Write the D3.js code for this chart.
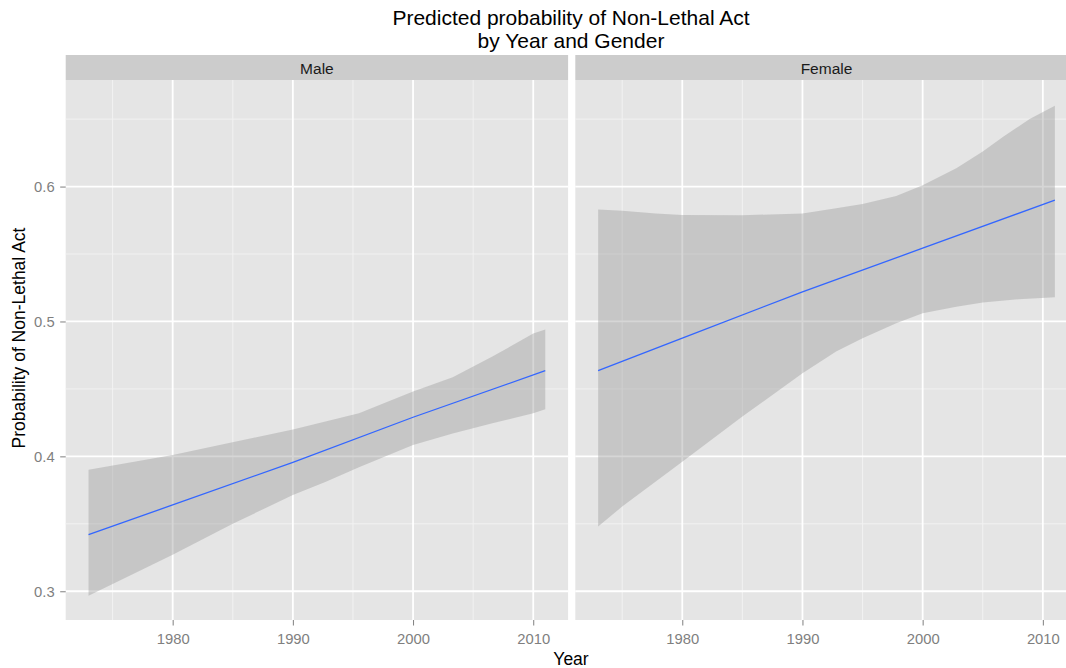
<!DOCTYPE html>
<html><head><meta charset="utf-8">
<script src="https://cdn.jsdelivr.net/npm/d3@7"></script>
<style>body{margin:0;background:#fff;} text{font-family:"Liberation Sans",Arial,sans-serif;}</style>
</head><body><svg id="c" width="1066" height="668"></svg>
<script>
const panels = ["Male", "Female"];
const xTicks = [1980, 1990, 2000, 2010];
const xMinor = [1975, 1985, 1995, 2005];
const yTicks = [0.3, 0.4, 0.5, 0.6];
const yMinor = [0.35, 0.45, 0.55, 0.65];

// Male ribbon and fit
const maleFitYears = [1973, 1980, 1990, 2000, 2011];
const maleFit = [0.342, 0.364, 0.3956, 0.429, 0.4635];
const maleUpperYears = [1973, 1980, 1990, 1995.5, 2000, 2003.3, 2006.6, 2010, 2011];
const maleUpper = [0.390, 0.401, 0.420, 0.432, 0.448, 0.4586, 0.474, 0.491, 0.494];
const maleLowerYears = [1973, 1980, 1985, 1990, 1992.7, 1995.5, 2000, 2003.3, 2006.6, 2010, 2011];
const maleLower = [0.2967, 0.327, 0.350, 0.3714, 0.381, 0.392, 0.4085, 0.417, 0.4245, 0.432, 0.435];

// Female ribbon and fit
const femaleFitYears = [1973, 1980, 1990, 2000, 2011];
const femaleFit = [0.4636, 0.4876, 0.522, 0.5543, 0.590];
const femaleUpperYears = [1973, 1975, 1977.8, 1980, 1985, 1990, 1992.8, 1995, 1997.8, 2000, 2002.8, 2005, 2006.7, 2008.9, 2011];
const femaleUpper = [0.583, 0.582, 0.580, 0.579, 0.5788, 0.580, 0.584, 0.587, 0.593, 0.601, 0.6136, 0.626, 0.637, 0.650, 0.660];
const femaleLowerYears = [1973, 1975, 1980, 1985, 1990, 1992.8, 1995, 1997.8, 2000, 2002.8, 2005, 2008, 2011];
const femaleLower = [0.348, 0.3628, 0.396, 0.4295, 0.4617, 0.4777, 0.4876, 0.4987, 0.5061, 0.511, 0.514, 0.5165, 0.518];

const svg = d3.select("#c");
const panelTop = 80, panelBottom = 620, stripTop = 55;
const panelLefts = [65.7, 575.3];
const panelW = 502.4;
const FONT = '"Liberation Sans",Arial,sans-serif';

const y = d3.scaleLinear().domain([0.2787, 0.679]).range([panelBottom, panelTop]);

const data = {
  Male: {fit: maleFitYears.map((d,i)=>[d, maleFit[i]]),
         up: maleUpperYears.map((d,i)=>[d, maleUpper[i]]),
         lo: maleLowerYears.map((d,i)=>[d, maleLower[i]])},
  Female: {fit: femaleFitYears.map((d,i)=>[d, femaleFit[i]]),
         up: femaleUpperYears.map((d,i)=>[d, femaleUpper[i]]),
         lo: femaleLowerYears.map((d,i)=>[d, femaleLower[i]])}
};

panels.forEach((p, pi) => {
  const x0 = panelLefts[pi];
  const x = d3.scaleLinear().domain([1971.1, 2012.9]).range([x0, x0 + panelW]);
  const g = svg.append("g");
  // strip
  g.append("rect").attr("x", x0).attr("y", stripTop).attr("width", panelW).attr("height", panelTop - stripTop).attr("fill", "#cccccc");
  g.append("text").attr("x", x0 + panelW/2).attr("y", 73.5).attr("text-anchor","middle")
    .attr("font-size", 15.5).attr("fill", "#1a1a1a").text(p);
  // panel
  g.append("rect").attr("x", x0).attr("y", panelTop).attr("width", panelW).attr("height", panelBottom-panelTop).attr("fill", "#e5e5e5");
  xMinor.forEach(v => g.append("line").attr("x1", x(v)).attr("x2", x(v)).attr("y1", panelTop).attr("y2", panelBottom).attr("stroke", "#f2f2f2").attr("stroke-width", 1));
  yMinor.forEach(v => g.append("line").attr("x1", x0).attr("x2", x0+panelW).attr("y1", y(v)).attr("y2", y(v)).attr("stroke", "#f2f2f2").attr("stroke-width", 1));
  xTicks.forEach(v => g.append("line").attr("x1", x(v)).attr("x2", x(v)).attr("y1", panelTop).attr("y2", panelBottom).attr("stroke", "#ffffff").attr("stroke-width", 1.8));
  yTicks.forEach(v => g.append("line").attr("x1", x0).attr("x2", x0+panelW).attr("y1", y(v)).attr("y2", y(v)).attr("stroke", "#ffffff").attr("stroke-width", 1.8));

  const d = data[p];
  const poly = d.up.concat(d.lo.slice().reverse());
  g.append("path").attr("d", d3.line().x(q=>x(q[0])).y(q=>y(q[1]))(poly) + "Z")
    .attr("fill", "#999999").attr("fill-opacity", 0.4);
  g.append("path").attr("d", d3.line().x(q=>x(q[0])).y(q=>y(q[1]))(d.fit))
    .attr("fill", "none").attr("stroke", "#3366FF").attr("stroke-width", 1.3);

  // x axis
  const ax = g.append("g").attr("transform", `translate(0,${panelBottom})`)
    .call(d3.axisBottom(x).tickValues(xTicks).tickFormat(d3.format("d")).tickSize(5.5).tickPadding(7.5));
  ax.select(".domain").remove();
  ax.selectAll("line").attr("stroke", "#7f7f7f");
  ax.selectAll("text").attr("fill", "#7f7f7f").attr("font-size", 14.8).attr("font-family", FONT);

  if (pi === 0) {
    const ay = g.append("g").attr("transform", `translate(${x0},0)`)
      .call(d3.axisLeft(y).tickValues(yTicks).tickFormat(d3.format(".1f")).tickSize(5.5).tickPadding(5.5));
    ay.select(".domain").remove();
    ay.selectAll("line").attr("stroke", "#7f7f7f");
    ay.selectAll("text").attr("fill", "#7f7f7f").attr("font-size", 14.8).attr("font-family", FONT);
  }
});

svg.append("text").attr("x", 571).attr("y", 25).attr("text-anchor","middle").attr("font-size", 21).attr("fill","#000").text("Predicted probability of Non-Lethal Act");
svg.append("text").attr("x", 571).attr("y", 47.5).attr("text-anchor","middle").attr("font-size", 21).attr("fill","#000").text("by Year and Gender");
svg.append("text").attr("x", 571).attr("y", 665).attr("text-anchor","middle").attr("font-size", 17.5).attr("fill","#000").text("Year");
svg.append("text").attr("transform", "translate(25,338) rotate(-90)").attr("text-anchor","middle").attr("font-size", 17.5).attr("fill","#000").text("Probability of Non-Lethal Act");
</script></body></html>
